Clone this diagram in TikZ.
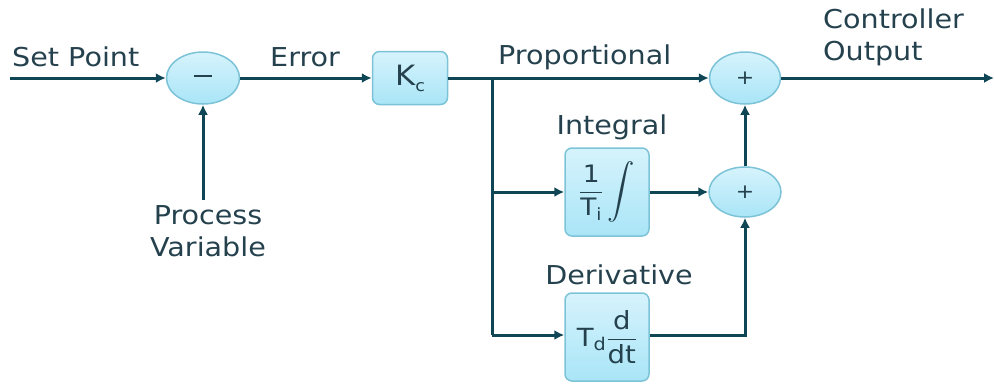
\documentclass[tikz,border=0pt]{standalone}
\usepackage{fontspec}
\usepackage{amsmath}
\setmainfont[FakeStretch=1.1]{DejaVu Sans}
\usetikzlibrary{arrows.meta,shapes.geometric}
\definecolor{lineC}{HTML}{0E4656}
\definecolor{txtC}{HTML}{24414D}
\definecolor{fillA}{HTML}{D6F3FC}
\definecolor{fillB}{HTML}{A9E5F7}
\definecolor{edgeC}{HTML}{7CC3D8}
\tikzset{
  blk/.style={draw=edgeC, line width=1.5pt, rounded corners=7pt, top color=fillA, bottom color=fillB, text=txtC, inner sep=0pt},
  sumnode/.style={ellipse, draw=edgeC, line width=1.5pt, top color=fillA, bottom color=fillB, text=txtC, minimum width=73pt, minimum height=52pt, inner sep=0pt, font=\fontsize{20}{20}\selectfont},
  conn/.style={draw=lineC, line width=3pt, -{Latex[length=10pt,width=10pt]}},
  wire/.style={draw=lineC, line width=3pt},
  lbl/.style={text=txtC, font=\fontsize{26}{32}\selectfont, inner sep=0pt}
}
\begin{document}
\begin{tikzpicture}[x=1pt,y=-1pt]
\useasboundingbox (0,0) rectangle (994,384);
% nodes
\node[sumnode] (s1) at (203,78) {\rule[5pt]{18pt}{2pt}};
\node[blk, minimum width=75pt, minimum height=53pt] (kc) at (410,78) {\fontsize{28}{28}\selectfont K\raisebox{-6pt}{\fontsize{16}{16}\selectfont c}};
\node[sumnode, minimum width=71pt] (s3) at (745,78) {+};
\node[sumnode, minimum width=72pt, minimum height=50pt] (s2) at (745,192) {+};
\node[blk, minimum width=84pt, minimum height=88pt] (int) at (607,192) {\fontsize{24}{24}\selectfont $\displaystyle\frac{\text{1}}{\text{T}_{\text{i}}}\,\raisebox{0pt}{\scalebox{1.1}{$\displaystyle\int$}}$};
\node[blk, minimum width=84pt, minimum height=88pt] (der) at (607,337) {\fontsize{25}{25}\selectfont $\text{T}_{\text{d}}\displaystyle\frac{\text{d}}{\text{dt}}$};
% coordinates
\coordinate (sp) at (10,78);
\coordinate (pv) at (203,200);
\coordinate (out) at (994,78);
\coordinate (br) at (492,78);
\coordinate (brI) at (492,192);
\coordinate (brD) at (492,335);
\coordinate (dR) at (745,335);
% labels
\node[lbl, anchor=west] (tsp) at (12,57) {Set Point};
\node[lbl, anchor=west] (terr) at (270,57) {Error};
\node[lbl, anchor=west] (tprop) at (498,57) {Proportional};
\node[lbl, anchor=west, align=left] (tout) at (823,37) {Controller\\Output};
\node[lbl, align=center] (tpv) at (208,231) {Process\\Variable};
\node[lbl] (tint) at (612,127) {Integral};
\node[lbl] (tder) at (619,275) {Derivative};
% connectors
\draw[conn] (sp) -- (s1);
\draw[conn] (pv) -- (s1);
\draw[conn] (s1) -- (kc);
\draw[conn] (kc) -- (s3);
\draw[conn] (s3) -- (out);
\draw[wire] (br) -- (brD);
\draw[conn] (brI) -- (int);
\draw[conn] (brD) -- (der.west |- brD);
\draw[conn] (int) -- (s2);
\draw[conn] (der.east |- dR) -- (dR) -- (s2.south);
\draw[conn] (s2) -- (s3);
\end{tikzpicture}
\end{document}
